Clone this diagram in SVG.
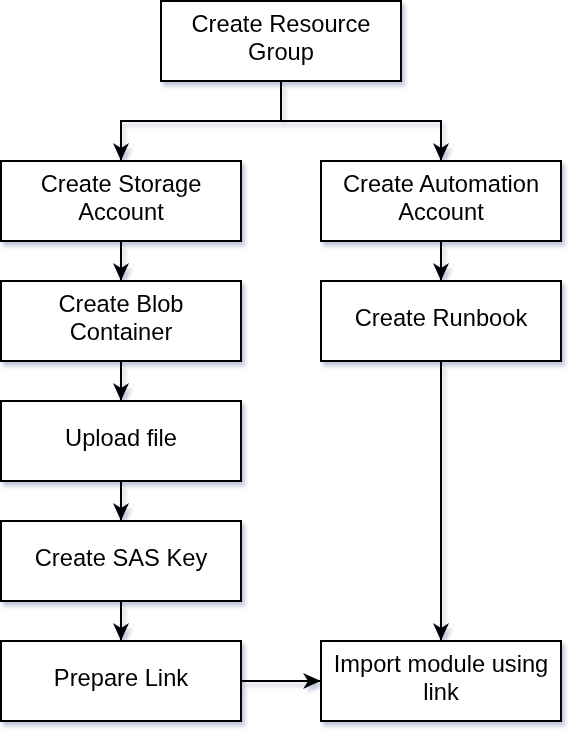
<svg xmlns="http://www.w3.org/2000/svg" width="584" height="744" viewBox="0 0 584 744">
<defs>
<style>
.box{fill:#ffffff;stroke:#000000;stroke-width:2}
.t{font-family:"Liberation Sans",Arial,sans-serif;font-size:23.7px;fill:#000000;text-anchor:middle}
.c{fill:none;stroke:#000000;stroke-width:2}
</style>
<filter id="sh" x="-10%" y="-10%" width="130%" height="130%">
<feDropShadow dx="3" dy="4" stdDeviation="2" flood-color="#8a94b8" flood-opacity="0.55"/>
</filter>
<marker id="arr" markerWidth="18" markerHeight="16" viewBox="0 0 18 16" refX="18" refY="8" orient="auto" markerUnits="userSpaceOnUse">
<path d="M0,0 L18,8 L0,16 L5,8 Z" fill="#000000"/>
</marker>
</defs>
<rect width="584" height="744" fill="#ffffff"/>
<g filter="url(#sh)">
<g id="connectors">
<path class="c" d="M281,81 V121 H121 V161" marker-end="url(#arr)"/>
<path class="c" d="M281,121 H441 V161" marker-end="url(#arr)"/>
<path class="c" d="M121,241 V281" marker-end="url(#arr)"/>
<path class="c" d="M121,361 V401" marker-end="url(#arr)"/>
<path class="c" d="M121,481 V521" marker-end="url(#arr)"/>
<path class="c" d="M121,601 V641" marker-end="url(#arr)"/>
<path class="c" d="M441,241 V281" marker-end="url(#arr)"/>
<path class="c" d="M441,361 V641" marker-end="url(#arr)"/>
<path class="c" d="M241,681 H321" marker-end="url(#arr)"/>
</g>
<g id="rg"><rect class="box" x="161" y="1" width="240" height="80"/><text class="t" x="281" y="31.5">Create Resource</text><text class="t" x="281" y="59.5">Group</text></g>
<g id="storage"><rect class="box" x="1" y="161" width="240" height="80"/><text class="t" x="121" y="191.5">Create Storage</text><text class="t" x="121" y="219.5">Account</text></g>
<g id="automation"><rect class="box" x="321" y="161" width="240" height="80"/><text class="t" x="441" y="191.5">Create Automation</text><text class="t" x="441" y="219.5">Account</text></g>
<g id="blob"><rect class="box" x="1" y="281" width="240" height="80"/><text class="t" x="121" y="311.5">Create Blob</text><text class="t" x="121" y="339.5">Container</text></g>
<g id="runbook"><rect class="box" x="321" y="281" width="240" height="80"/><text class="t" x="441" y="325.5">Create Runbook</text></g>
<g id="upload"><rect class="box" x="1" y="401" width="240" height="80"/><text class="t" x="121" y="445.5">Upload file</text></g>
<g id="sas"><rect class="box" x="1" y="521" width="240" height="80"/><text class="t" x="121" y="565.5">Create SAS Key</text></g>
<g id="link"><rect class="box" x="1" y="641" width="240" height="80"/><text class="t" x="121" y="685.5">Prepare Link</text></g>
<g id="import"><rect class="box" x="321" y="641" width="240" height="80"/><text class="t" x="441" y="671.5">Import module using</text><text class="t" x="441" y="699.5">link</text></g>
</g>
</svg>
